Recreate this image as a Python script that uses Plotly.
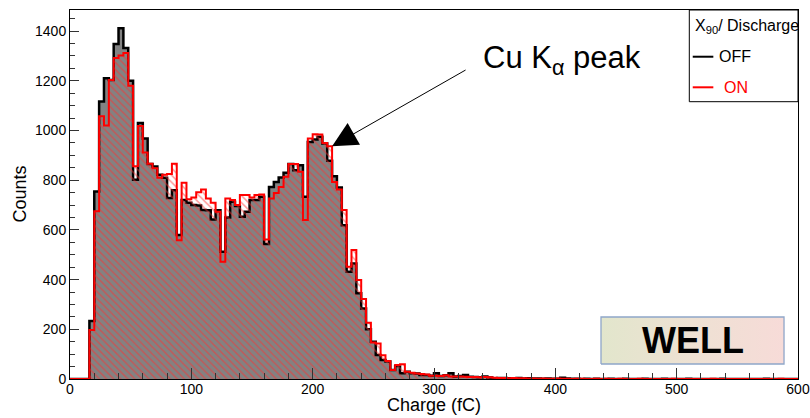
import plotly.graph_objects as go

# Histogram binning (fC)
BIN_WIDTH = 4.0
X_MIN, X_MAX = 0, 600
Y_MAX = 1485

# Counts per 4 fC bin, X90 discharge OFF
off_counts = [
    0, 0, 0, 0, 233, 755, 1117, 1210, 1203, 1348,
    1412, 1332, 1200, 802, 1030, 968, 865, 855, 822, 810,
    728, 760, 580, 720, 709, 700, 698, 680, 679, 642,
    679, 512, 650, 713, 696, 653, 673, 720, 720, 733,
    543, 773, 793, 811, 830, 865, 840, 860, 733, 954,
    964, 975, 948, 878, 816, 771, 619, 432, 465, 345,
    284, 200, 150, 97, 76, 70, 36, 52, 23, 29,
    23, 22, 16, 16, 13, 23, 12, 15, 23, 10,
    12, 16, 9, 8, 7, 10, 6, 3, 4, 4,
    3, 3, 4, 2, 3, 2, 2, 1, 2, 1,
    1, 5, 2, 1, 1, 0, 1, 0, 1, 0,
    0, 1, 0, 0, 1, 0, 0, 0, 1, 0,
    0, 0, 1, 0, 0, 0, 0, 1, 0, 0,
    0, 0, 0, 0, 1, 0, 0, 0, 0, 0,
    0, 0, 0, 1, 0, 0, 0, 0, 0, 0,
]

# Counts per 4 fC bin, X90 discharge ON
on_counts = [
    0, 0, 0, 0, 197, 675, 1057, 1020, 1203, 1292,
    1302, 1312, 1180, 856, 1018, 912, 866, 848, 810, 822,
    825, 866, 558, 790, 723, 730, 752, 763, 726, 709,
    673, 472, 726, 720, 700, 740, 740, 730, 740, 742,
    561, 726, 749, 773, 814, 865, 865, 834, 640, 968,
    985, 984, 950, 937, 793, 763, 680, 452, 519, 398,
    322, 226, 147, 143, 96, 72, 36, 56, 59, 29,
    25, 22, 20, 18, 13, 13, 12, 15, 10, 10,
    10, 9, 8, 8, 7, 8, 7, 5, 4, 4,
    3, 4, 3, 3, 2, 2, 1, 2, 1, 1,
    2, 1, 1, 0, 1, 1, 0, 0, 1, 0,
    1, 0, 0, 1, 0, 0, 0, 1, 0, 0,
    0, 0, 0, 0, 1, 0, 0, 0, 0, 0,
    0, 0, 1, 0, 0, 0, 0, 0, 0, 0,
    0, 0, 0, 0, 0, 0, 1, 0, 0, 0,
]

x_ticks = [0, 100, 200, 300, 400, 500, 600]
y_ticks = [0, 200, 400, 600, 800, 1000, 1200, 1400]

# Peak bin marked by the arrow (212-216 fC, arrow at its right edge)
PEAK_BIN = 53

FONT = "Liberation Sans"


def step_xy(counts):
    edges = [X_MIN + i * BIN_WIDTH for i in range(len(counts) + 1)]
    return edges, list(counts) + [counts[-1]]


fig = go.Figure()

x_off, y_off = step_xy(off_counts)
fig.add_trace(go.Scatter(
    x=x_off, y=y_off, mode="lines", name="OFF",
    line=dict(color="black", width=2.5, shape="hv"),
    fill="tozeroy", fillcolor="#828282",
    hoverinfo="skip", showlegend=False,
))

x_on, y_on = step_xy(on_counts)
fig.add_trace(go.Scatter(
    x=x_on, y=y_on, mode="lines", name="ON",
    line=dict(color="red", width=2, shape="hv"),
    fill="tozeroy", fillcolor="rgba(0,0,0,0)",
    fillpattern=dict(shape="\\", fgcolor="#ff3030", bgcolor="rgba(0,0,0,0)",
                     size=5, solidity=0.3),
    hoverinfo="skip", showlegend=False,
))

# "WELL" label box with a horizontal colour gradient, on a paper-like overlay axis
bx0, bx1 = 0.7294, 0.9808
by0, by1 = 0.0407, 0.168
fig.add_trace(go.Scatter(
    x=[bx0, bx1, bx1, bx0, bx0], y=[by0, by0, by1, by1, by0],
    xaxis="x2", yaxis="y2", mode="lines", fill="toself",
    fillgradient=dict(type="horizontal",
                      colorscale=[[0, "#e2e6cc"], [0.5, "#eee1d3"], [1, "#f7dbd8"]]),
    line=dict(color="#8fa6c9", width=1.3),
    hoverinfo="skip", showlegend=False,
))

axis_common = dict(
    showline=True, mirror=True, linecolor="black", linewidth=1,
    showgrid=False, zeroline=False, ticks="inside", tickcolor="#333333",
    tickfont=dict(family=FONT, size=14, color="black"), automargin=False,
)

fig.update_layout(
    width=810, height=418,
    margin=dict(l=70, r=12, t=10, b=39, autoexpand=False),
    paper_bgcolor="white", plot_bgcolor="white",
    font=dict(family=FONT, color="black"),
    xaxis=dict(range=[X_MIN, X_MAX], tickvals=x_ticks, ticklen=11,
               ticklabelstandoff=-3,
               minor=dict(dtick=20, ticklen=6, ticks="inside", tickcolor="#333333"),
               **axis_common),
    yaxis=dict(range=[0, Y_MAX], tickvals=y_ticks, ticklen=9,
               minor=dict(dtick=50, ticklen=5, ticks="inside", tickcolor="#333333"),
               **axis_common),
    xaxis2=dict(overlaying="x", range=[0, 1], visible=False, fixedrange=True),
    yaxis2=dict(overlaying="y", range=[0, 1], visible=False, fixedrange=True),
)

annotations = [
    # axis titles
    dict(text="Charge (fC)", xref="paper", yref="paper", x=0.5, y=0,
         xanchor="center", yanchor="top", yshift=-14, showarrow=False,
         font=dict(family=FONT, size=18)),
    dict(text="Counts", xref="paper", yref="paper", x=0, y=0.5,
         xanchor="center", yanchor="middle", xshift=-51, textangle=-90,
         showarrow=False, font=dict(family=FONT, size=18)),
    # peak label and arrow
    dict(text="Cu K<sub>α</sub> peak", xref="paper", yref="paper",
         x=0.6765, y=0.865, xanchor="center", yanchor="middle",
         showarrow=False, font=dict(family=FONT, size=31)),
    dict(text="", x=PEAK_BIN * BIN_WIDTH + BIN_WIDTH, y=on_counts[PEAK_BIN],
         xref="x", yref="y", showarrow=True, ax=135, ay=-77,
         arrowhead=2, arrowsize=5, arrowwidth=1, arrowcolor="black"),
    # label box text
    dict(text="<b>WELL</b>", xref="paper", yref="paper",
         x=(bx0 + bx1) / 2, y=(by0 + by1) / 2, xanchor="center", yanchor="middle",
         showarrow=False, font=dict(family=FONT, size=36, color="black")),
    # legend
    dict(text="X<sub>90</sub>/ Discharge", xref="paper", yref="paper",
         x=0.8554, y=0.955, xanchor="left", yanchor="middle",
         showarrow=False, font=dict(family=FONT, size=16)),
    dict(text="OFF", xref="paper", yref="paper", x=0.8888, y=0.8734,
         xanchor="left", yanchor="middle", showarrow=False,
         font=dict(family=FONT, size=16, color="black")),
    dict(text="ON", xref="paper", yref="paper", x=0.8957, y=0.7905,
         xanchor="left", yanchor="middle", showarrow=False,
         font=dict(family=FONT, size=16, color="red")),
]
fig.update_layout(annotations=annotations)

shapes = [
    dict(type="rect", xref="paper", yref="paper", x0=0.8507, x1=1.0, y0=0.7515, y1=1.0,
         line=dict(color="black", width=1), fillcolor="white", layer="above"),
    dict(type="line", xref="paper", yref="paper", x0=0.8554, x1=0.8837, y0=0.8734, y1=0.8734,
         line=dict(color="black", width=2)),
    dict(type="line", xref="paper", yref="paper", x0=0.8554, x1=0.8837, y0=0.7905, y1=0.7905,
         line=dict(color="red", width=2)),
]
fig.update_layout(shapes=shapes)

fig.write_html("out.html")
